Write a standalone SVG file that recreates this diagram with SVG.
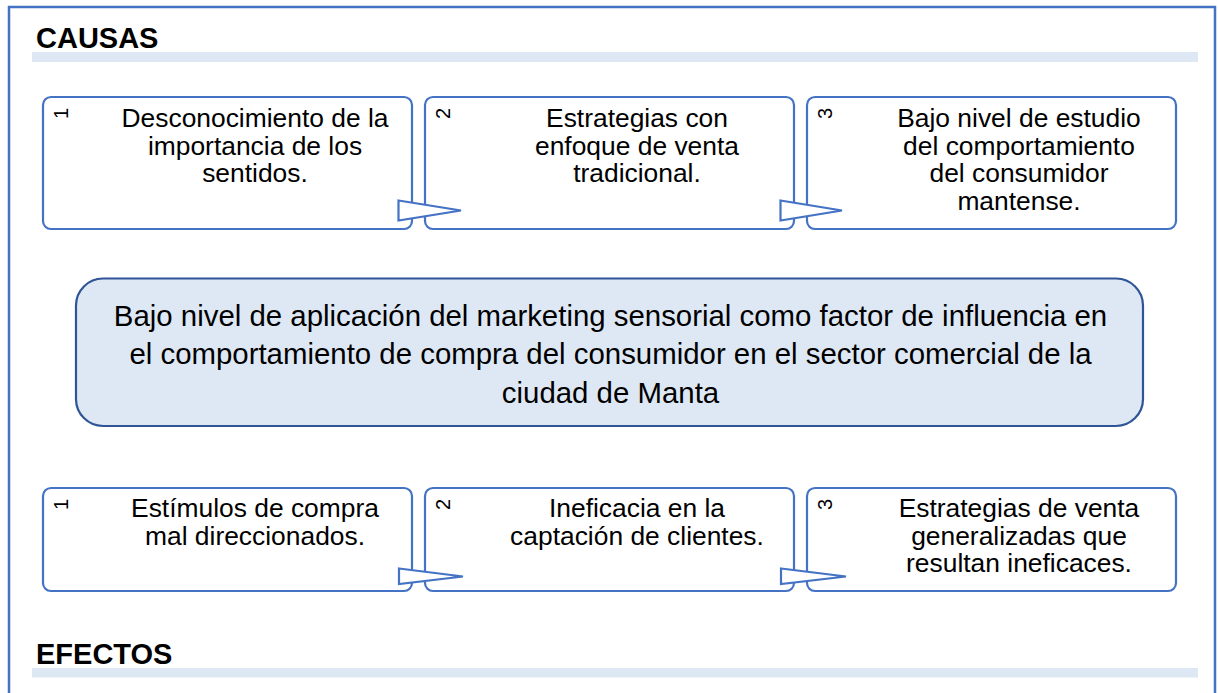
<svg xmlns="http://www.w3.org/2000/svg" width="1218" height="693" viewBox="0 0 1218 693">
<style>
.frame{fill:none;stroke:#4472C4;stroke-width:2.5}
.band{fill:#DEE8F5}
.head{font-family:"Liberation Sans",Arial,sans-serif;font-weight:bold;font-size:29px;fill:#000}
.box{fill:#fff;stroke:#4472C4;stroke-width:2.2}
.main{fill:#DEE8F5;stroke:#2F5597;stroke-width:2.2}
.t{font-family:"Liberation Sans",Arial,sans-serif;font-size:26.4px;fill:#000;text-anchor:middle}
.tc{font-family:"Liberation Sans",Arial,sans-serif;font-size:29.4px;fill:#000;text-anchor:middle}
.n{font-family:"Liberation Sans",Arial,sans-serif;font-size:20px;fill:#000}
.arr{fill:#fff;stroke:#4472C4;stroke-width:2.2;stroke-linejoin:miter}
</style>
<rect width="1218" height="693" fill="#fff"/>
<rect class="frame" x="9" y="7" width="1206" height="720"/>
<g id="causas-header">
<rect class="band" x="32" y="52" width="1166" height="10"/>
<text class="head" x="36" y="48">CAUSAS</text>
</g>
<g id="efectos-header">
<rect class="band" x="32" y="668" width="1166" height="9.5"/>
<text class="head" x="36" y="664">EFECTOS</text>
</g>
<g id="causa1">
<rect class="box" x="43" y="97" width="369" height="132" rx="8"/>
<text class="n" transform="rotate(-90 67.5 119)" x="67.5" y="119">1</text>
<text class="t" x="255" y="127">Desconocimiento de la</text>
<text class="t" x="255" y="154.5">importancia de los</text>
<text class="t" x="255" y="182">sentidos.</text>
</g>
<g id="causa2">
<rect class="box" x="425" y="97" width="369" height="132" rx="8"/>
<text class="n" transform="rotate(-90 449.5 119)" x="449.5" y="119">2</text>
<text class="t" x="637" y="127">Estrategias con</text>
<text class="t" x="637" y="154.5">enfoque de venta</text>
<text class="t" x="637" y="182">tradicional.</text>
</g>
<g id="causa3">
<rect class="box" x="807" y="97" width="369" height="132" rx="8"/>
<text class="n" transform="rotate(-90 831.5 119)" x="831.5" y="119">3</text>
<text class="t" x="1019" y="127">Bajo nivel de estudio</text>
<text class="t" x="1019" y="154.5">del comportamiento</text>
<text class="t" x="1019" y="182">del consumidor</text>
<text class="t" x="1019" y="209.5">mantense.</text>
</g>
<g id="problema">
<rect class="main" x="76" y="278.5" width="1067" height="147.5" rx="27"/>
<text class="tc" x="610.5" y="325.5">Bajo nivel de aplicación del marketing sensorial como factor de influencia en</text>
<text class="tc" x="610.5" y="364">el comportamiento de compra del consumidor en el sector comercial de la</text>
<text class="tc" x="610.5" y="402.5">ciudad de Manta</text>
</g>
<g id="efecto1">
<rect class="box" x="43" y="488" width="369" height="103" rx="8"/>
<text class="n" transform="rotate(-90 67.5 510)" x="67.5" y="510">1</text>
<text class="t" x="255" y="517">Estímulos de compra</text>
<text class="t" x="255" y="544.5">mal direccionados.</text>
</g>
<g id="efecto2">
<rect class="box" x="425" y="488" width="369" height="103" rx="8"/>
<text class="n" transform="rotate(-90 449.5 510)" x="449.5" y="510">2</text>
<text class="t" x="637" y="517">Ineficacia en la</text>
<text class="t" x="637" y="544.5">captación de clientes.</text>
</g>
<g id="efecto3">
<rect class="box" x="807" y="488" width="369" height="103" rx="8"/>
<text class="n" transform="rotate(-90 831.5 510)" x="831.5" y="510">3</text>
<text class="t" x="1019" y="517">Estrategias de venta</text>
<text class="t" x="1019" y="544.5">generalizadas que</text>
<text class="t" x="1019" y="572">resultan ineficaces.</text>
</g>
<g id="connectors">
<polygon class="arr" points="398.5,200.5 461,210.5 398.5,220.5"/>
<polygon class="arr" points="780.5,200.5 842,210.5 780.5,220.5"/>
<polygon class="arr" points="399,568.5 463,576.5 399,584"/>
<polygon class="arr" points="781,568.5 846,576.5 781,584"/>
</g>
</svg>
